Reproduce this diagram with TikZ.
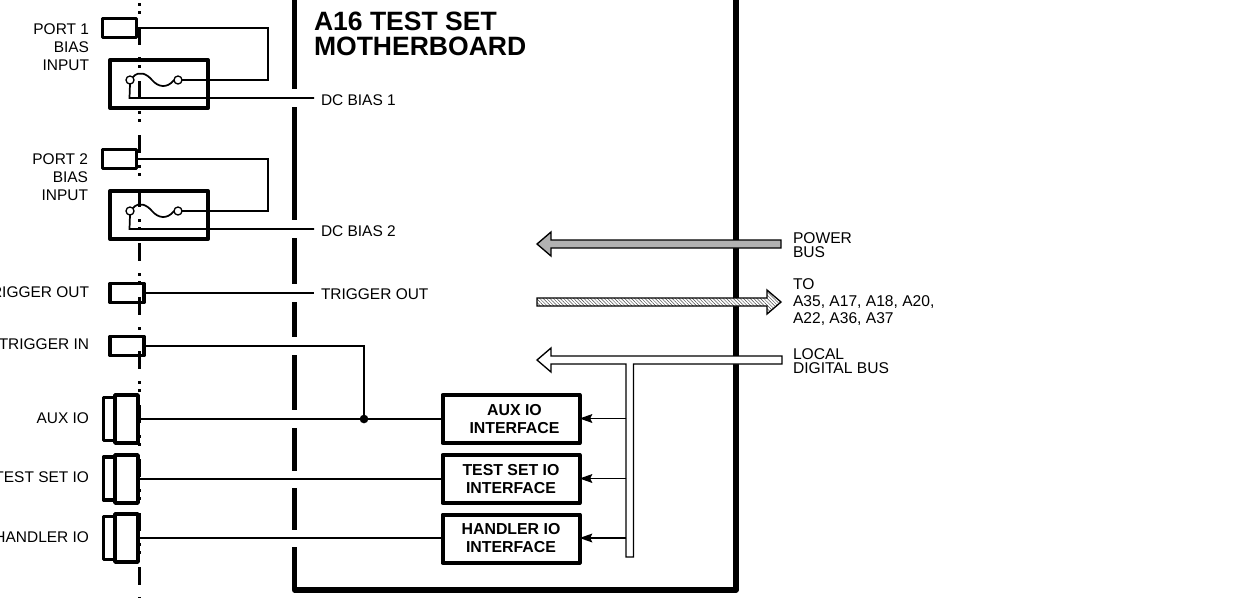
\documentclass[tikz,border=0pt]{standalone}
\usepackage{fontspec}
\setmainfont{Liberation Sans}
\usetikzlibrary{arrows.meta,patterns.meta}
\definecolor{busgray}{gray}{0.70}
\newlength{\pxu}\setlength{\pxu}{0.75pt}
\tikzset{
  x=0.75pt,y=-0.75pt,
  thick box/.style={draw=black,line width=3pt,inner sep=0pt,outer sep=0pt,line join=round,rectangle},
  conn box/.style={draw=black,line width=2.6pt,inner sep=0pt,outer sep=0pt,line join=round,rectangle},
  wire/.style={draw=black,line width=1.3pt,line join=miter},
  wall/.style={draw=black,line width=4pt},
  sbox/.style n args={2}{minimum width=#1*\pxu,minimum height=#2*\pxu},
  lab/.style={font=\fontsize{11.6}{13.5}\selectfont,inner sep=0pt,outer sep=0pt},
  rlab/.style={lab,anchor=east,align=right},
  llab/.style={lab,anchor=west,align=left},
  iface/.style={thick box,sbox={137}{48},align=center,font=\fontsize{11.9}{13.5}\selectfont\bfseries},
  term/.style={circle,draw=black,fill=white,line width=1pt,inner sep=0pt,outer sep=0pt,minimum size=6pt},
  junct/.style={circle,fill=black,inner sep=0pt,outer sep=0pt,minimum size=6.5pt},
  busline/.style={draw=black,line width=1pt,line join=miter},
  tap/.style={wire,-{Stealth[length=9.5pt,width=6.5pt,inset=1.5pt]}}
}
\begin{document}
\begin{tikzpicture}
\useasboundingbox (0,0) rectangle (1244,597);
\clip (0,0) rectangle (1244,597);
% panel centre line
\foreach \s in {-27,27,81,135,189,243,297,351,405,459,513,567}{
  \fill (138,\s) rectangle (141,\s+18);
  \fill (138,\s+30) rectangle (141,\s+33);
  \fill (138,\s+38) rectangle (141,\s+41);
}
% motherboard outline
\draw[wall] (294.5,0) -- (294.5,89);
\draw[wall] (294.5,107) -- (294.5,220);
\draw[wall] (294.5,238) -- (294.5,284);
\draw[wall] (294.5,302) -- (294.5,337);
\draw[wall] (294.5,355) -- (294.5,410);
\draw[wall] (294.5,428) -- (294.5,471);
\draw[wall] (294.5,488) -- (294.5,530);
\draw[wall,line join=round] (294.5,547) -- (294.5,590) -- (736,590) -- (736,0);
\node[llab,font=\fontsize{19.9}{18.6}\selectfont\bfseries] (title) at (314,33.5) {A16 TEST SET\\MOTHERBOARD};
% front panel connectors
\node[conn box,sbox={34}{19}] (p1) at (119.5,28) {};
\node[conn box,sbox={34}{19}] (p2) at (119.5,159) {};
\node[conn box,sbox={34}{19}] (tout) at (127,293) {};
\node[conn box,sbox={34}{19}] (tin) at (127,346) {};
\node[conn box,sbox={11}{43}] (auxb) at (109,419) {};
\node[conn box,sbox={23}{48}] (auxa) at (126.5,419) {};
\node[conn box,sbox={11}{43}] (tsb) at (109,478.5) {};
\node[conn box,sbox={23}{48}] (tsa) at (126.5,479) {};
\node[conn box,sbox={11}{43}] (hb) at (109,538) {};
\node[conn box,sbox={23}{48}] (ha) at (126.5,538) {};
% fuse boxes
\node[thick box,sbox={98}{48}] (f1) at (159,84) {};
\node[thick box,sbox={98}{48}] (f2) at (159,215) {};
\node[term] (t1a) at (130,80) {};
\node[term] (t1b) at (178,80) {};
\node[term] (t2a) at (130,211) {};
\node[term] (t2b) at (178,211) {};
\draw[wire] (t1a.north east) .. controls (139,70) and (147,74) .. (152,80) .. controls (158,87) and (167,89) .. (t1b.west);
\draw[wire] (t2a.north east) .. controls (139,201) and (147,205) .. (152,211) .. controls (158,218) and (167,220) .. (t2b.west);
% labels, left
\node[rlab] (lp1) at (89,47) {PORT 1\\BIAS\\INPUT};
\node[rlab] (lp2) at (88,177) {PORT 2\\BIAS\\INPUT};
\node[rlab] (ltout) at (89,292) {TRIGGER OUT};
\node[rlab] (ltin) at (89,344) {TRIGGER IN};
\node[rlab] (laux) at (89,418) {AUX IO};
\node[rlab] (lts) at (89,477) {TEST SET IO};
\node[rlab] (lh) at (89,537) {HANDLER IO};
% labels, inside
\node[llab] (db1) at (321,100.5) {DC BIAS 1};
\node[llab] (db2) at (321,231.5) {DC BIAS 2};
\node[llab] (trg) at (321,294) {TRIGGER OUT};
\coordinate (db1w) at (314,98);
\coordinate (db2w) at (314,229);
\coordinate (trgw) at (314,293);
% wires
\draw[wire] (p1.east) -- (268,28) -- (268,80) -- (t1b.east);
\draw[wire] (p2.east) -- (268,159) -- (268,211) -- (t2b.east);
\draw[wire] (t1a.south) -- (129.5,98) -- (db1w);
\draw[wire] (t2a.south) -- (129.5,229) -- (db2w);
\draw[wire] (tout.east) -- (trgw);
% interfaces
\node[iface] (ia) at (511,419) {\hspace*{5.2pt}AUX IO\\\hspace*{5.2pt}INTERFACE};
\node[iface] (it) at (511,479) {TEST SET IO\\INTERFACE};
\node[iface] (ih) at (511,538.5) {HANDLER IO\\INTERFACE};
\node[junct] (j) at (364,419) {};
\draw[wire] (tin.east) -- (364,346) -- (j);
\draw[wire] (auxa.east) -- (j) -- (ia.west);
\draw[wire] (tsa.east) -- (it.west);
\draw[wire] (ha.east) -- (ha.east -| ih.west);
% buses
\draw[busline,fill=busgray] (781,240) -- (551,240) -- (551,232) -- (537,244) -- (551,256) -- (551,248) -- (781,248) -- cycle;
\fill[white] (537,298) -- (767,298) -- (767,290) -- (781,302) -- (767,314) -- (767,306) -- (537,306) -- cycle;
\draw[busline,pattern={Lines[angle=-45,distance=1.8pt,line width=0.35pt]},pattern color=black!70] (537,298) -- (767,298) -- (767,290) -- (781,302) -- (767,314) -- (767,306) -- (537,306) -- cycle;
\draw[busline,fill=white] (782,356) -- (551,356) -- (551,348) -- (537,360) -- (551,372) -- (551,364) -- (626,364) -- (626,557) -- (633.5,557) -- (633.5,364) -- (782,364) -- cycle;
\coordinate (b1) at (626,418.5);
\coordinate (b2) at (626,478.5);
\coordinate (b3) at (626,538);
\draw[tap] (b1) -- (ia.east |- b1);
\draw[tap] (b2) -- (it.east |- b2);
\draw[tap] (b3) -- (ih.east |- b3);
% labels, right
\node[llab,font=\fontsize{11.7}{10.5}\selectfont] (lpow) at (793,245) {POWER\\BUS};
\node[llab,font=\fontsize{11.7}{13}\selectfont] (lto) at (793,302) {TO\\A35, A17, A18, A20,\\A22, A36, A37};
\node[llab,font=\fontsize{11.7}{10.5}\selectfont] (ldig) at (793,361) {LOCAL\\DIGITAL BUS};
\end{tikzpicture}
\end{document}
